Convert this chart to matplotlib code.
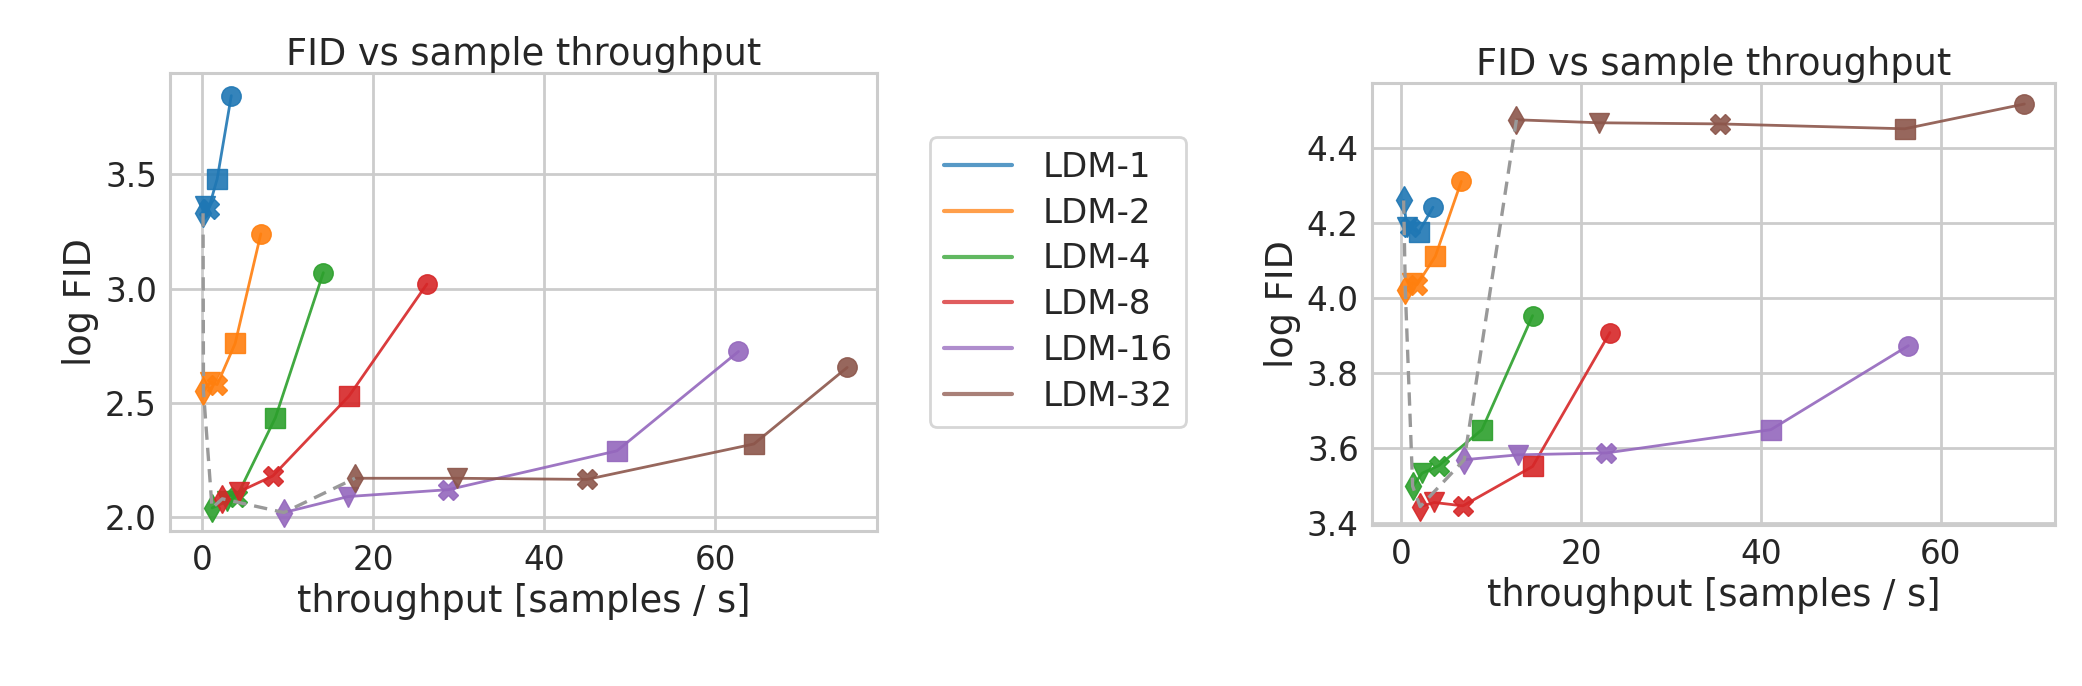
import numpy as np
import matplotlib
matplotlib.use("Agg")
import matplotlib.pyplot as plt
import seaborn as sns
from matplotlib.lines import Line2D

sns.set_theme(style="whitegrid")
plt.rcParams['font.family'] = ['DejaVu Sans']

#-----------------------------------#
models = ["LDM-1", "LDM-2", "LDM-4", "LDM-8", "LDM-16", "LDM-32"]
colors = ["#1f77b4", "#ff7f0e", "#2ca02c", "#d62728", "#9467bd", "#8c564b"]
step_markers = ["d", "v", "X", "s", "o"]   # slowest -> fastest sampler setting

# left panel: throughput [samples/s] and log FID
left_x = [
    [0.15, 0.4, 0.8, 1.8, 3.45],
    [0.2, 1.0, 1.8, 3.9, 6.9],
    [1.2, 3.0, 4.1, 8.6, 14.2],
    [2.4, 4.3, 8.3, 17.2, 26.3],
    [9.6, 17.1, 28.8, 48.5, 62.7],
    [17.9, 29.8, 45.0, 64.5, 75.4],
]
left_y = [
    [3.33, 3.36, 3.35, 3.48, 3.845],
    [2.55, 2.59, 2.58, 2.76, 3.24],
    [2.04, 2.07, 2.09, 2.435, 3.07],
    [2.08, 2.11, 2.18, 2.53, 3.02],
    [2.02, 2.09, 2.12, 2.29, 2.725],
    [2.17, 2.17, 2.165, 2.32, 2.655],
]

# right panel
right_x = [
    [0.26, 0.6, 1.0, 1.93, 3.52],
    [0.44, 1.2, 1.74, 3.78, 6.67],
    [1.26, 2.3, 4.15, 8.96, 14.6],
    [2.1, 3.67, 6.85, 14.6, 23.2],
    [7.0, 13.0, 22.8, 41.1, 56.4],
    [12.8, 22.0, 35.4, 56.0, 69.3],
]
right_y = [
    [4.26, 4.19, 4.19, 4.175, 4.242],
    [4.022, 4.04, 4.035, 4.111, 4.311],
    [3.498, 3.533, 3.553, 3.649, 3.953],
    [3.444, 3.455, 3.446, 3.551, 3.908],
    [3.569, 3.582, 3.587, 3.649, 3.873],
    [4.475, 4.467, 4.464, 4.451, 4.517],
]
#-----------------------------------#

TICK_FS = 23.5
LABEL_FS = 26.5
LW = 2.0
MS = 14


def draw_panel(ax, xs, ys):
    for xv, yv, c in zip(xs, ys, colors):
        ax.plot(xv, yv, '-', color=c, lw=LW, alpha=0.9, zorder=3)
        for xi, yi, m in zip(xv, yv, step_markers):
            ax.plot(xi, yi, m, color=c, ms=MS, mec=c, alpha=0.9, zorder=4)
    # dashed line through the slowest setting of each model
    ax.plot([xv[0] for xv in xs], [yv[0] for yv in ys], color='#999999',
            lw=2.4, dashes=(4, 2.4), zorder=5)
    ax.set_title("FID vs sample throughput", fontsize=LABEL_FS, color='.15')
    ax.set_xlabel("throughput [samples / s]", fontsize=LABEL_FS, color='.15')
    ax.set_ylabel("log FID", fontsize=LABEL_FS, color='.15')
    ax.tick_params(labelsize=TICK_FS, colors='.15')
    ax.grid(True, color='.8', lw=2.0)
    for sp in ax.spines.values():
        sp.set_color('.8')
        sp.set_linewidth(2.2)
    ax.set_axisbelow(True)


fig = plt.figure(figsize=(20.82, 6.86), dpi=100)
ax1 = fig.add_axes([0.0817, 0.2259, 0.3396, 0.6677])
ax2 = fig.add_axes([0.659, 0.2347, 0.328, 0.6443])

draw_panel(ax1, left_x, left_y)
ax1.set_xlim(-3.7, 78.9)
ax1.set_ylim(1.939, 3.944)
ax1.set_xticks([0, 20, 40, 60])
ax1.set_yticks([2.0, 2.5, 3.0, 3.5])

draw_panel(ax2, right_x, right_y)
ax2.set_xlim(-3.26, 72.7)
ax2.set_ylim(3.395, 4.573)
ax2.set_xticks([0, 20, 40, 60])
ax2.set_yticks(np.arange(3.4, 4.41, 0.2))

handles = [Line2D([0], [0], color=c, lw=3, alpha=0.75) for c in colors]
leg = fig.legend(handles, models, loc='upper left',
                 bbox_to_anchor=(0.4467, 0.8003), fontsize=24.5,
                 frameon=True, labelspacing=0.38, borderaxespad=0,
                 handletextpad=0.9)
leg.get_frame().set_edgecolor('.8')
leg.get_frame().set_linewidth(2.0)
for t in leg.get_texts():
    t.set_color('.15')

fig.savefig("out.png", dpi=100)
